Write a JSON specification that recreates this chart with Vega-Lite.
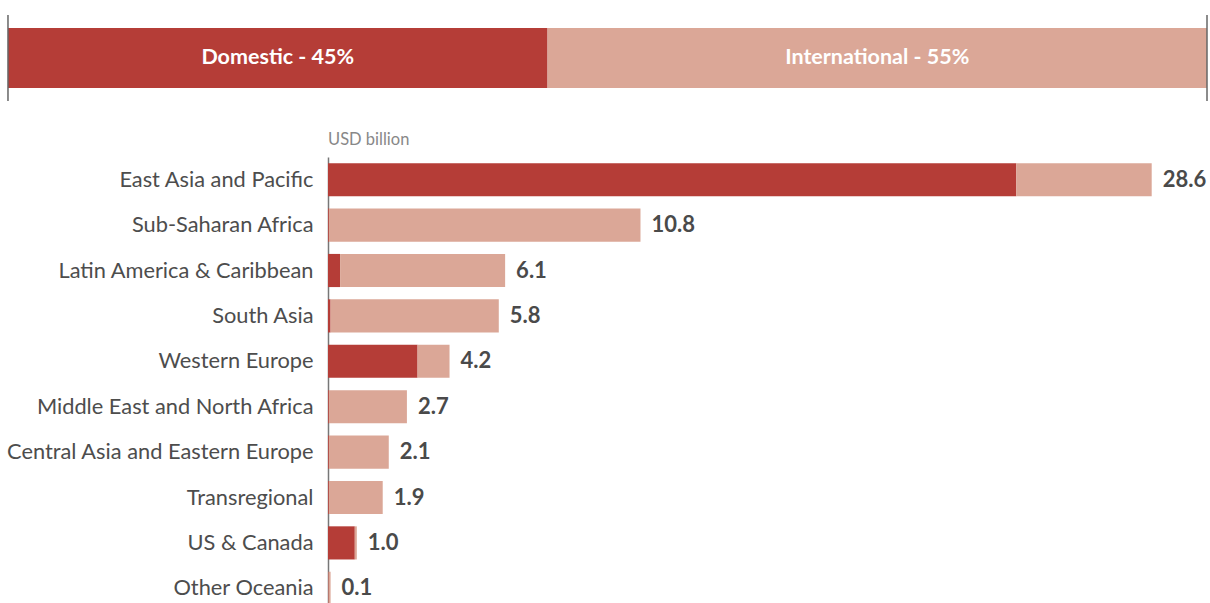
{
  "$schema": "https://vega.github.io/schema/vega-lite/v6.json",
  "padding": {"left": 5, "top": 14, "right": 2, "bottom": 0},
  "background": "white",
  "config": {
    "view": {"stroke": null},
    "font": "Lato",
    "text": {"font": "Lato"},
    "title": {"font": "Lato"}
  },
  "datasets": {
    "split": [
      {"bar": "Funding", "type": "Domestic", "share": 45, "label": "Domestic - 45%"},
      {"bar": "Funding", "type": "International", "share": 55, "label": "International - 55%"}
    ],
    "ends": [{"v": 0}, {"v": 100}],
    "regions": [
      {"region": "East Asia and Pacific", "type": "Domestic", "value": 23.9},
      {"region": "East Asia and Pacific", "type": "International", "value": 4.7},
      {"region": "Sub-Saharan Africa", "type": "Domestic", "value": 0.03},
      {"region": "Sub-Saharan Africa", "type": "International", "value": 10.82},
      {"region": "Latin America & Caribbean", "type": "Domestic", "value": 0.42},
      {"region": "Latin America & Caribbean", "type": "International", "value": 5.73},
      {"region": "South Asia", "type": "Domestic", "value": 0.09},
      {"region": "South Asia", "type": "International", "value": 5.84},
      {"region": "Western Europe", "type": "Domestic", "value": 3.11},
      {"region": "Western Europe", "type": "International", "value": 1.11},
      {"region": "Middle East and North Africa", "type": "Domestic", "value": 0.03},
      {"region": "Middle East and North Africa", "type": "International", "value": 2.71},
      {"region": "Central Asia and Eastern Europe", "type": "Domestic", "value": 0.03},
      {"region": "Central Asia and Eastern Europe", "type": "International", "value": 2.08},
      {"region": "Transregional", "type": "Domestic", "value": 0.03},
      {"region": "Transregional", "type": "International", "value": 1.87},
      {"region": "US & Canada", "type": "Domestic", "value": 0.93},
      {"region": "US & Canada", "type": "International", "value": 0.07},
      {"region": "Other Oceania", "type": "Domestic", "value": 0.02},
      {"region": "Other Oceania", "type": "International", "value": 0.07}
    ],
    "totals": [
      {"region": "East Asia and Pacific", "total": 28.6, "barEnd": 28.6},
      {"region": "Sub-Saharan Africa", "total": 10.8, "barEnd": 10.85},
      {"region": "Latin America & Caribbean", "total": 6.1, "barEnd": 6.15},
      {"region": "South Asia", "total": 5.8, "barEnd": 5.93},
      {"region": "Western Europe", "total": 4.2, "barEnd": 4.22},
      {"region": "Middle East and North Africa", "total": 2.7, "barEnd": 2.74},
      {"region": "Central Asia and Eastern Europe", "total": 2.1, "barEnd": 2.11},
      {"region": "Transregional", "total": 1.9, "barEnd": 1.9},
      {"region": "US & Canada", "total": 1.0, "barEnd": 1.0},
      {"region": "Other Oceania", "total": 0.1, "barEnd": 0.09}
    ]
  },
  "vconcat": [
    {
      "width": 879,
      "height": 86,
      "layer": [
        {
          "data": {"name": "split"},
          "transform": [
            {"stack": "share", "groupby": ["bar"], "sort": [{"field": "type"}], "as": ["s0", "s1"]}
          ],
          "mark": {"type": "bar", "clip": false},
          "encoding": {
            "y": {"field": "bar", "type": "nominal", "axis": null, "scale": {"paddingInner": 0, "paddingOuter": 0.2167}},
            "x": {"field": "s0", "type": "quantitative", "axis": null, "scale": {"domain": [26.69, 100], "nice": false, "zero": false}},
            "x2": {"field": "s1"},
            "color": {"field": "type", "type": "nominal", "legend": null, "scale": {"domain": ["Domestic", "International"], "range": ["#B53D37", "#DBA797"]}}
          }
        },
        {
          "data": {"name": "split"},
          "transform": [
            {"stack": "share", "groupby": ["bar"], "sort": [{"field": "type"}], "as": ["s0", "s1"]},
            {"calculate": "(datum.s0 + datum.s1) / 2", "as": "mid"}
          ],
          "mark": {"type": "text", "color": "white", "fontWeight": "bold", "fontSize": 21.5, "align": "center", "baseline": "middle", "font": "Lato", "clip": false},
          "encoding": {
            "y": {"field": "bar", "type": "nominal", "axis": null},
            "x": {"field": "mid", "type": "quantitative"},
            "text": {"field": "label"}
          }
        },
        {
          "data": {"name": "ends"},
          "mark": {"type": "rule", "color": "#666666", "strokeWidth": 1.5, "clip": false},
          "encoding": {
            "x": {"field": "v", "type": "quantitative"}
          }
        }
      ]
    },
    {
      "width": 879,
      "height": 454,
      "title": {"text": "USD billion", "anchor": "start", "frame": "group", "fontSize": 16.5, "fontWeight": "normal", "color": "#888888", "offset": 9, "font": "Lato"},
      "layer": [
        {
          "data": {"name": "regions"},
          "mark": {"type": "bar"},
          "encoding": {
            "y": {
              "field": "region", "type": "nominal", "sort": null, "title": null,
              "scale": {"paddingInner": 0.27, "paddingOuter": 0.135},
              "axis": {"ticks": false, "domain": true, "domainColor": "#777777", "domainWidth": 1.5, "labelPadding": 15, "labelFontSize": 21.8, "labelColor": "#4d4d4d", "labelFont": "Lato", "labelLimit": 400}
            },
            "x": {"field": "value", "type": "quantitative", "stack": "zero", "axis": null, "scale": {"domain": [0, 30.52], "nice": false}},
            "color": {"field": "type", "type": "nominal", "legend": null, "scale": {"domain": ["Domestic", "International"], "range": ["#B53D37", "#DBA797"]}},
            "order": {"field": "type"}
          }
        },
        {
          "data": {"name": "totals"},
          "mark": {"type": "text", "align": "left", "baseline": "middle", "dx": 11, "fontSize": 22, "fontWeight": "bold", "color": "#4a4a4a", "font": "Lato"},
          "encoding": {
            "y": {"field": "region", "type": "nominal", "sort": null},
            "x": {"field": "barEnd", "type": "quantitative"},
            "text": {"field": "total", "type": "quantitative", "format": ".1f"}
          }
        }
      ]
    }
  ],
  "spacing": 29
}
